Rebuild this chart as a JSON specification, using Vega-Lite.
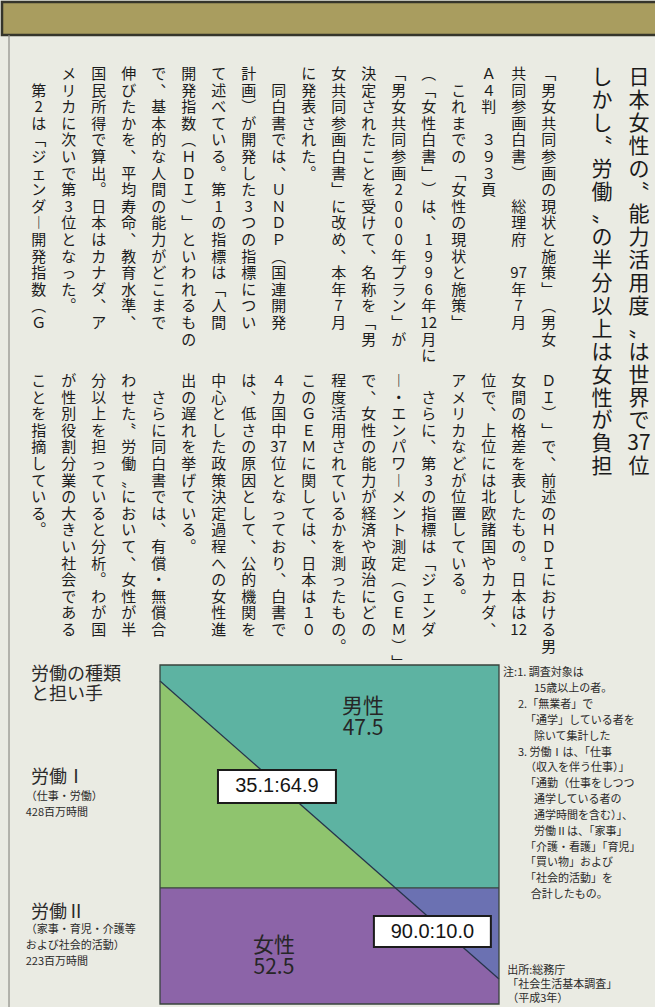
{
  "$schema": "https://vega.github.io/schema/vega-lite/v6.json",
  "padding": 0,
  "background": "#eaebe3",
  "config": {"view": {"stroke": null}, "font": "Noto Sans CJK JP"},
  "spacing": 0,
  "bounds": "flush",
  "vconcat": [
    {
      "width": 655,
      "height": 33,
      "view": {"fill": "#a99d5f", "stroke": "#35352b", "strokeWidth": 2.5},
      "data": {"values": [{"band": "header"}]},
      "mark": {"type": "text"},
      "encoding": {"text": {"value": ""}}
    },
    {
      "width": 655,
      "height": 630,
      "resolve": {"scale": {"x": "independent"}},
      "layer": [
        {
          "data": {"values": [
            {"col": 1, "tier": 1, "text": "日\n本\n女\n性\nの\n〝\n能\n力\n活\n用\n度\n〟\nは\n世\n界\nで\n37\n位"},
            {"col": 2, "tier": 1, "text": "し\nか\nし\n〝\n労\n働\n〟\nの\n半\n分\n以\n上\nは\n女\n性\nが\n負\n担"}
          ]},
          "mark": {"type": "text", "fontSize": 21, "lineHeight": 22.9, "lineBreak": "\n", "align": "center", "baseline": "top", "color": "#1a1a1a"},
          "encoding": {
            "x": {"field": "col", "type": "quantitative", "scale": {"domain": [1, 2], "range": [637, 600]}, "axis": null},
            "y": {"field": "tier", "type": "quantitative", "scale": {"domain": [1, 2], "range": [32, 339]}, "axis": null},
            "text": {"field": "text", "type": "nominal"}
          }
        },
        {
          "data": {"values": [
            {"col": 1, "tier": 1, "text": "﹁\n男\n女\n共\n同\n参\n画\nの\n現\n状\nと\n施\n策\n﹂\n︵\n男\n女"},
            {"col": 2, "tier": 1, "text": "共\n同\n参\n画\n白\n書\n︶\n\u2800\n総\n理\n府\n\u2800\n97\n年\n7\n月"},
            {"col": 3, "tier": 1, "text": "Ａ\n４\n判\n\u2800\n３\n９\n３\n頁"},
            {"col": 4, "tier": 1, "text": "\u2800\nこ\nれ\nま\nで\nの\n﹁\n女\n性\nの\n現\n状\nと\n施\n策\n﹂"},
            {"col": 5, "tier": 1, "text": "︵\n﹁\n女\n性\n白\n書\n﹂\n︶\nは\n︑\n1\n9\n9\n6\n年\n12\n月\nに"},
            {"col": 6, "tier": 1, "text": "﹁\n男\n女\n共\n同\n参\n画\n2\n0\n0\n0\n年\nプ\nラ\nン\n﹂\nが"},
            {"col": 7, "tier": 1, "text": "決\n定\nさ\nれ\nた\nこ\nと\nを\n受\nけ\nて\n︑\n名\n称\nを\n﹁\n男"},
            {"col": 8, "tier": 1, "text": "女\n共\n同\n参\n画\n白\n書\n﹂\nに\n改\nめ\n︑\n本\n年\n7\n月"},
            {"col": 9, "tier": 1, "text": "に\n発\n表\nさ\nれ\nた\n︒"},
            {"col": 10, "tier": 1, "text": "\u2800\n同\n白\n書\nで\nは\n︑\nＵ\nＮ\nＤ\nＰ\n︵\n国\n連\n開\n発"},
            {"col": 11, "tier": 1, "text": "計\n画\n︶\nが\n開\n発\nし\nた\n3\nつ\nの\n指\n標\nに\nつ\nい"},
            {"col": 12, "tier": 1, "text": "て\n述\nべ\nて\nい\nる\n︒\n第\n1\nの\n指\n標\nは\n﹁\n人\n間"},
            {"col": 13, "tier": 1, "text": "開\n発\n指\n数\n︵\nＨ\nＤ\nＩ\n︶\n﹂\nと\nい\nわ\nれ\nる\nも\nの"},
            {"col": 14, "tier": 1, "text": "で\n︑\n基\n本\n的\nな\n人\n間\nの\n能\n力\nが\nど\nこ\nま\nで"},
            {"col": 15, "tier": 1, "text": "伸\nび\nた\nか\nを\n︑\n平\n均\n寿\n命\n︑\n教\n育\n水\n準\n︑"},
            {"col": 16, "tier": 1, "text": "国\n民\n所\n得\nで\n算\n出\n︒\n日\n本\nは\nカ\nナ\nダ\n︑\nア"},
            {"col": 17, "tier": 1, "text": "メ\nリ\nカ\nに\n次\nい\nで\n第\n3\n位\nと\nな\nっ\nた\n︒"},
            {"col": 18, "tier": 1, "text": "\u2800\n第\n2\nは\n﹁\nジ\nェ\nン\nダ\n︱\n開\n発\n指\n数\n︵\nＧ"},
            {"col": 1, "tier": 2, "text": "Ｄ\nＩ\n︶\n﹂\nで\n︑\n前\n述\nの\nＨ\nＤ\nＩ\nに\nお\nけ\nる\n男"},
            {"col": 2, "tier": 2, "text": "女\n間\nの\n格\n差\nを\n表\nし\nた\nも\nの\n︒\n日\n本\nは\n12"},
            {"col": 3, "tier": 2, "text": "位\nで\n︑\n上\n位\nに\nは\n北\n欧\n諸\n国\nや\nカ\nナ\nダ\n︑"},
            {"col": 4, "tier": 2, "text": "ア\nメ\nリ\nカ\nな\nど\nが\n位\n置\nし\nて\nい\nる\n︒"},
            {"col": 5, "tier": 2, "text": "\u2800\nさ\nら\nに\n︑\n第\n3\nの\n指\n標\nは\n﹁\nジ\nェ\nン\nダ"},
            {"col": 6, "tier": 2, "text": "︱\n・\nエ\nン\nパ\nワ\n︱\nメ\nン\nト\n測\n定\n︵\nＧ\nＥ\nＭ\n︶\n﹂"},
            {"col": 7, "tier": 2, "text": "で\n︑\n女\n性\nの\n能\n力\nが\n経\n済\nや\n政\n治\nに\nど\nの"},
            {"col": 8, "tier": 2, "text": "程\n度\n活\n用\nさ\nれ\nて\nい\nる\nか\nを\n測\nっ\nた\nも\nの\n︒"},
            {"col": 9, "tier": 2, "text": "こ\nの\nＧ\nＥ\nＭ\nに\n関\nし\nて\nは\n︑\n日\n本\nは\n１\n０"},
            {"col": 10, "tier": 2, "text": "４\nカ\n国\n中\n37\n位\nと\nな\nっ\nて\nお\nり\n︑\n白\n書\nで"},
            {"col": 11, "tier": 2, "text": "は\n︑\n低\nさ\nの\n原\n因\nと\nし\nて\n︑\n公\n的\n機\n関\nを"},
            {"col": 12, "tier": 2, "text": "中\n心\nと\nし\nた\n政\n策\n決\n定\n過\n程\nへ\nの\n女\n性\n進"},
            {"col": 13, "tier": 2, "text": "出\nの\n遅\nれ\nを\n挙\nげ\nて\nい\nる\n︒"},
            {"col": 14, "tier": 2, "text": "\u2800\nさ\nら\nに\n同\n白\n書\nで\nは\n︑\n有\n償\n・\n無\n償\n合"},
            {"col": 15, "tier": 2, "text": "わ\nせ\nた\n〝\n労\n働\n〟\nに\nお\nい\nて\n︑\n女\n性\nが\n半"},
            {"col": 16, "tier": 2, "text": "分\n以\n上\nを\n担\nっ\nて\nい\nる\nと\n分\n析\n︒\nわ\nが\n国"},
            {"col": 17, "tier": 2, "text": "が\n性\n別\n役\n割\n分\n業\nの\n大\nき\nい\n社\n会\nで\nあ\nる"},
            {"col": 18, "tier": 2, "text": "こ\nと\nを\n指\n摘\nし\nて\nい\nる\n︒"}
          ]},
          "mark": {"type": "text", "fontSize": 15, "lineHeight": 16.6, "lineBreak": "\n", "align": "center", "baseline": "top", "color": "#1c1c1c"},
          "encoding": {
            "x": {"field": "col", "type": "quantitative", "scale": {"domain": [1, 18], "range": [546.7, 36.7]}, "axis": null},
            "y": {"field": "tier", "type": "quantitative", "scale": {"domain": [1, 2], "range": [32, 339]}, "axis": null},
            "text": {"field": "text", "type": "nominal"}
          }
        },
        {
          "data": {"values": [{"frame": 18.99}]},
          "mark": {"type": "rule", "color": "#8c8c86", "strokeWidth": 1.2},
          "encoding": {
            "x": {"field": "frame", "type": "quantitative", "scale": {"domain": [1, 18], "range": [546.7, 36.7]}, "axis": null}
          }
        }
      ]
    },
    {
      "width": 655,
      "height": 344,
      "layer": [
        {
          "data": {"values": [
            {"part": "男性・労働Ⅰ", "pct": 0, "top": 651, "bottom": 620.3},
            {"part": "男性・労働Ⅰ", "pct": 69.4, "top": 651, "bottom": 223},
            {"part": "男性・労働Ⅰ", "pct": 100, "top": 651, "bottom": 223},
            {"part": "女性・労働Ⅰ", "pct": 0, "top": 620.3, "bottom": 223},
            {"part": "女性・労働Ⅰ", "pct": 69.4, "top": 223, "bottom": 223},
            {"part": "女性・労働Ⅱ", "pct": 0, "top": 223, "bottom": 0},
            {"part": "女性・労働Ⅱ", "pct": 69.4, "top": 223, "bottom": 0},
            {"part": "女性・労働Ⅱ", "pct": 100, "top": 48, "bottom": 0},
            {"part": "男性・労働Ⅱ", "pct": 69.4, "top": 223, "bottom": 223},
            {"part": "男性・労働Ⅱ", "pct": 100, "top": 223, "bottom": 48}
          ]},
          "mark": {"type": "area", "interpolate": "linear", "opacity": 1},
          "encoding": {
            "x": {"field": "pct", "type": "quantitative", "scale": {"domain": [0, 100], "range": [158, 497], "nice": false, "zero": false}, "axis": null},
            "y": {"field": "top", "type": "quantitative", "stack": null, "scale": {"domain": [0, 651], "range": [339, 0], "nice": false, "zero": false}, "axis": null},
            "y2": {"field": "bottom"},
            "color": {"field": "part", "type": "nominal", "legend": null,
              "scale": {"domain": ["男性・労働Ⅰ", "女性・労働Ⅰ", "女性・労働Ⅱ", "男性・労働Ⅱ"], "range": ["#5db3a2", "#8fc46e", "#8c64a8", "#6b71b2"]}}
          }
        },
        {
          "data": {"values": [{"x0": 0, "x1": 100, "y0": 223}]},
          "mark": {"type": "rule", "color": "#38433d", "strokeWidth": 1.2},
          "encoding": {
            "x": {"field": "x0", "type": "quantitative", "scale": {"domain": [0, 100], "range": [158, 497], "nice": false, "zero": false}, "axis": null},
            "x2": {"field": "x1"},
            "y": {"field": "y0", "type": "quantitative", "scale": {"domain": [0, 651], "range": [339, 0], "nice": false, "zero": false}, "axis": null}
          }
        },
        {
          "data": {"values": [{"pct": 0, "hours": 620.3}, {"pct": 100, "hours": 48}]},
          "mark": {"type": "line", "color": "#25324a", "strokeWidth": 1.2},
          "encoding": {
            "x": {"field": "pct", "type": "quantitative", "scale": {"domain": [0, 100], "range": [158, 497], "nice": false, "zero": false}, "axis": null},
            "y": {"field": "hours", "type": "quantitative", "scale": {"domain": [0, 651], "range": [339, 0], "nice": false, "zero": false}, "axis": null}
          }
        },
        {
          "data": {"values": [{"x0": 0, "x1": 100, "y0": 0, "y1": 651}]},
          "mark": {"type": "rect", "fill": null, "fillOpacity": 0, "stroke": "#38433d", "strokeWidth": 1.3},
          "encoding": {
            "x": {"field": "x0", "type": "quantitative", "scale": {"domain": [0, 100], "range": [158, 497], "nice": false, "zero": false}, "axis": null},
            "x2": {"field": "x1"},
            "y": {"field": "y0", "type": "quantitative", "scale": {"domain": [0, 651], "range": [339, 0], "nice": false, "zero": false}, "axis": null},
            "y2": {"field": "y1"}
          }
        },
        {
          "data": {"values": [{"frame": -44.54}]},
          "mark": {"type": "rule", "color": "#8c8c86", "strokeWidth": 1.2},
          "encoding": {
            "x": {"field": "frame", "type": "quantitative", "scale": {"domain": [0, 100], "range": [158, 497], "nice": false, "zero": false}, "axis": null}
          }
        },
        {
          "data": {"values": [
            {"ratio": "35.1:64.9", "x0": 17.1, "x1": 51.9, "y0": 386, "y1": 449.4},
            {"ratio": "90.0:10.0", "x0": 63.1, "x1": 97.6, "y0": 109.4, "y1": 169}
          ]},
          "mark": {"type": "rect", "fill": "#ffffff", "stroke": "#1b1b1b", "strokeWidth": 2},
          "encoding": {
            "x": {"field": "x0", "type": "quantitative", "scale": {"domain": [0, 100], "range": [158, 497], "nice": false, "zero": false}, "axis": null},
            "x2": {"field": "x1"},
            "y": {"field": "y0", "type": "quantitative", "scale": {"domain": [0, 651], "range": [339, 0], "nice": false, "zero": false}, "axis": null},
            "y2": {"field": "y1"}
          }
        },
        {
          "data": {"values": [
            {"ratio": "35.1:64.9", "cx": 34.5, "cy": 417.7},
            {"ratio": "90.0:10.0", "cx": 80.35, "cy": 139.2}
          ]},
          "mark": {"type": "text", "font": "Liberation Sans", "fontSize": 20, "align": "center", "baseline": "middle", "color": "#151515"},
          "encoding": {
            "x": {"field": "cx", "type": "quantitative", "scale": {"domain": [0, 100], "range": [158, 497], "nice": false, "zero": false}, "axis": null},
            "y": {"field": "cy", "type": "quantitative", "scale": {"domain": [0, 651], "range": [339, 0], "nice": false, "zero": false}, "axis": null},
            "text": {"field": "ratio", "type": "nominal"}
          }
        },
        {
          "data": {"values": [
            {"label": "男性\n47.5", "pct": 59.9, "hours": 570.3},
            {"label": "女性\n52.5", "pct": 33.6, "hours": 111.3}
          ]},
          "mark": {"type": "text", "fontSize": 21, "lineHeight": 22, "lineBreak": "\n", "align": "center", "baseline": "middle", "color": "#262626"},
          "encoding": {
            "x": {"field": "pct", "type": "quantitative", "scale": {"domain": [0, 100], "range": [158, 497], "nice": false, "zero": false}, "axis": null},
            "y": {"field": "hours", "type": "quantitative", "scale": {"domain": [0, 651], "range": [339, 0], "nice": false, "zero": false}, "axis": null},
            "text": {"field": "label", "type": "nominal"}
          }
        },
        {
          "data": {"values": [
            {"label": "労働の種類\nと担い手", "pct": -38.05, "hours": 631.8},
            {"label": "労働Ⅰ", "pct": -38.05, "hours": 433.4},
            {"label": "労働Ⅱ", "pct": -38.05, "hours": 174.2}
          ]},
          "mark": {"type": "text", "fontSize": 18, "lineHeight": 20, "lineBreak": "\n", "align": "left", "baseline": "middle", "color": "#2a2a2a"},
          "encoding": {
            "x": {"field": "pct", "type": "quantitative", "scale": {"domain": [0, 100], "range": [158, 497], "nice": false, "zero": false}, "axis": null},
            "y": {"field": "hours", "type": "quantitative", "scale": {"domain": [0, 651], "range": [339, 0], "nice": false, "zero": false}, "axis": null},
            "text": {"field": "label", "type": "nominal"}
          }
        },
        {
          "data": {"values": [
            {"label": "（仕事・労働）\n428百万時間", "pct": -39.6, "hours": 397.5},
            {"label": "（家事・育児・介護等\nおよび社会的活動）\n223百万時間", "pct": -39.6, "hours": 141.5},
            {"label": "注:1. 調査対象は", "pct": 101.2, "hours": 635.1},
            {"label": "15歳以上の者。", "pct": 110.3, "hours": 604.7},
            {"label": "2.「無業者」で", "pct": 105.6, "hours": 574.2},
            {"label": "「通学」している者を", "pct": 107.7, "hours": 543.8},
            {"label": "除いて集計した", "pct": 110.3, "hours": 513.3},
            {"label": "3. 労働Ⅰは、「仕事", "pct": 105.6, "hours": 482.9},
            {"label": "（収入を伴う仕事）」\n「通勤（仕事をしつつ", "pct": 107.7, "hours": 452.5},
            {"label": "通学している者の\n通学時間を含む）」、\n労働Ⅱは、「家事」", "pct": 110.3, "hours": 391.7},
            {"label": "「介護・看護」「育児」\n「買い物」および\n「社会的活動」を", "pct": 107.7, "hours": 300.5},
            {"label": "合計したもの。", "pct": 109.4, "hours": 209.1}
          ]},
          "mark": {"type": "text", "fontSize": 11, "lineHeight": 15.8, "lineBreak": "\n", "align": "left", "baseline": "middle", "color": "#2a2a2a"},
          "encoding": {
            "x": {"field": "pct", "type": "quantitative", "scale": {"domain": [0, 100], "range": [158, 497], "nice": false, "zero": false}, "axis": null},
            "y": {"field": "hours", "type": "quantitative", "scale": {"domain": [0, 651], "range": [339, 0], "nice": false, "zero": false}, "axis": null},
            "text": {"field": "label", "type": "nominal"}
          }
        },
        {
          "data": {"values": [
            {"label": "出所:総務庁\n「社会生活基本調査」\n（平成3年）", "pct": 102.4, "hours": 63.3}
          ]},
          "mark": {"type": "text", "fontSize": 11, "lineHeight": 14, "lineBreak": "\n", "align": "left", "baseline": "middle", "color": "#2a2a2a"},
          "encoding": {
            "x": {"field": "pct", "type": "quantitative", "scale": {"domain": [0, 100], "range": [158, 497], "nice": false, "zero": false}, "axis": null},
            "y": {"field": "hours", "type": "quantitative", "scale": {"domain": [0, 651], "range": [339, 0], "nice": false, "zero": false}, "axis": null},
            "text": {"field": "label", "type": "nominal"}
          }
        }
      ]
    }
  ]
}
